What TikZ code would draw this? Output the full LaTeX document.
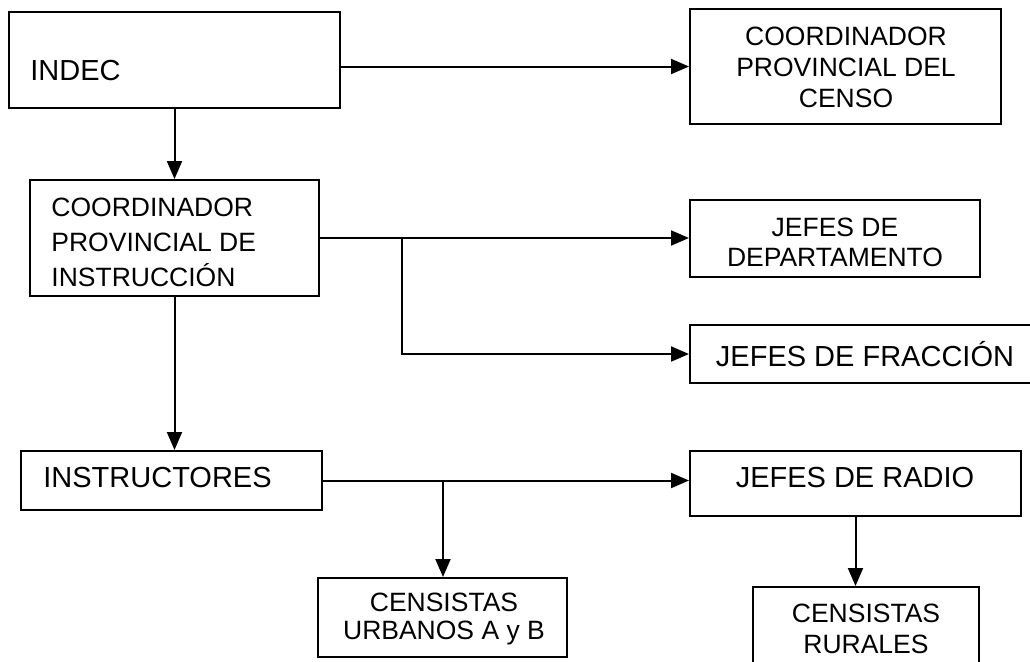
\documentclass[tikz,border=0pt]{standalone}
\usepackage{fontspec}
\setmainfont{Liberation Sans}
\usetikzlibrary{arrows.meta,fit}
\begin{document}
\begin{tikzpicture}[x=0.5pt,y=-0.5pt,
  box/.style={draw,line width=1pt,inner sep=0pt},
  lbl/.style={inner sep=0pt,font=\fontsize{14.5pt}{#1}\selectfont},
  lbl/.default=17.5pt,
  slbl/.style={inner sep=0pt,font=\fontsize{13.25pt}{#1}\selectfont},
  arr/.style={line width=1pt,-{Triangle[width=7.5pt,length=9pt]}},
  conn/.style={line width=1pt}]
\useasboundingbox (0,0) rectangle (1030,661);
\clip (0,0) rectangle (1030,661);

% boxes
\node[box,fit={(9,12) (340,108)}] (indec) {};
\node[box,fit={(30,180) (319,296)}] (coordI) {};
\node[box,fit={(690,9) (1001,124)}] (censo) {};
\node[box,fit={(690,200) (980,277)}] (depto) {};
\node[box,fit={(690,325) (1045,383)}] (fraccion) {};
\node[box,fit={(21,451) (322,510)}] (instr) {};
\node[box,fit={(690,451) (1021,516)}] (radio) {};
\node[box,fit={(318,578) (567,657)}] (urbanos) {};
\node[box,fit={(753,587) (979,690)}] (rurales) {};

% texts
\node[lbl,anchor=west] (tindec) at (30,70.5) {INDEC};
\node[slbl=17.5pt,anchor=west,align=left] (tcoordI) at (51,242) {COORDINADOR\\PROVINCIAL DE\\INSTRUCCIÓN};
\node[slbl=15.5pt,align=center] (tcenso) at (846,67) {COORDINADOR\\PROVINCIAL DEL\\CENSO};
\node[slbl=15pt,align=center] (tdepto) at (835,242.5) {JEFES DE\\DEPARTAMENTO};
\node[lbl] (tfraccion) at (865,354) {JEFES DE FRACCIÓN};
\node[lbl,anchor=west] (tinstr) at (43,478) {INSTRUCTORES};
\node[lbl] (tradio) at (855,478) {JEFES DE RADIO};
\node[slbl=14pt,align=center] (turbanos) at (444,619) {CENSISTAS\\URBANOS A y B};
\node[slbl=15.5pt,align=center] (trurales) at (866,628.5) {CENSISTAS\\RURALES};

% connectors
\draw[arr] (indec.east |- censo.west) -- (censo.west);
\draw[arr] (indec.south) -- (coordI.north);
\draw[arr] (coordI.east) -- (coordI.east -| depto.west);
\coordinate (j1) at (402,238);
\draw[arr] (j1) |- (fraccion.west);
\draw[arr] (coordI.south) -- (coordI.south |- instr.north);
\draw[arr] (instr.east) -- (instr.east -| radio.west);
\coordinate (j2) at (443,480.5);
\draw[arr] (j2) -- (j2 |- urbanos.north);
\draw[arr] (radio.south) -- (radio.south |- rurales.north);
\end{tikzpicture}
\end{document}
